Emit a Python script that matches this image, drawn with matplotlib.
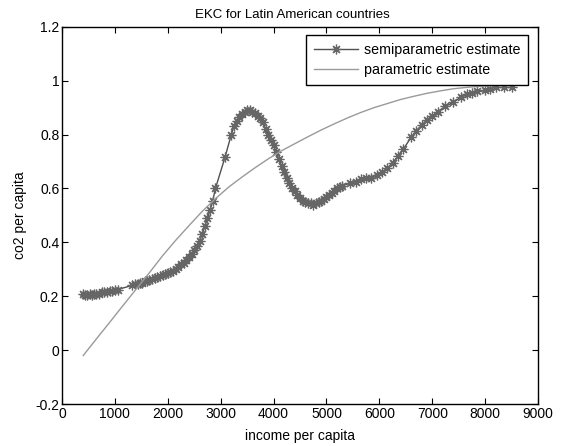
import matplotlib
matplotlib.use('Agg')
import matplotlib.pyplot as plt

# semiparametric estimate
semi_x = [400, 430, 480, 520, 560, 600, 650, 700, 760, 800, 850, 900, 950, 1000, 1050,
          1320, 1380, 1430, 1480, 1520, 1560, 1600, 1650, 1700, 1750, 1800, 1850, 1900, 1950, 2000,
          2050, 2100, 2150, 2200, 2250, 2300, 2350, 2400, 2450, 2500, 2550, 2600, 2650, 2700,
          2750, 2800, 2850, 2900,
          3080, 3200, 3250, 3300, 3350, 3400, 3450, 3500, 3550, 3600, 3650, 3700, 3750, 3800,
          3850, 3900, 3950, 4000, 4050, 4100, 4150, 4200, 4250, 4300, 4350, 4400, 4450, 4500,
          4550, 4600, 4650, 4700, 4750, 4800, 4850, 4900, 4950, 5000, 5050, 5100, 5150, 5200,
          5250, 5300, 5450, 5550, 5650, 5750, 5850, 5950, 6050, 6150, 6250, 6350, 6450, 6600,
          6700, 6800, 6900, 7000, 7100, 7250, 7400, 7550, 7650, 7750, 7850, 8000, 8100, 8200,
          8350, 8500]
semi_y = [0.21, 0.205, 0.205, 0.21, 0.205, 0.21, 0.21, 0.21, 0.215, 0.215, 0.215, 0.22, 0.22, 0.225, 0.225,
          0.24, 0.245, 0.245, 0.25, 0.25, 0.255, 0.258, 0.26, 0.265, 0.268, 0.272, 0.275, 0.278, 0.282, 0.285,
          0.29, 0.295, 0.30, 0.31, 0.318, 0.325, 0.333, 0.345, 0.355, 0.37, 0.385, 0.405, 0.43, 0.46,
          0.49, 0.52, 0.555, 0.60,
          0.715, 0.80, 0.83, 0.85, 0.865, 0.875, 0.885, 0.89, 0.89, 0.885, 0.88, 0.87, 0.86, 0.845,
          0.82, 0.80, 0.78, 0.76, 0.735, 0.71, 0.685, 0.66, 0.64, 0.62, 0.60, 0.59, 0.575, 0.565,
          0.555, 0.55, 0.545, 0.545, 0.54, 0.545, 0.55, 0.555, 0.56, 0.57, 0.575, 0.585, 0.59, 0.60,
          0.605, 0.61, 0.62, 0.625, 0.635, 0.64, 0.64, 0.65, 0.66, 0.675, 0.695, 0.72, 0.745, 0.79,
          0.815, 0.835, 0.855, 0.87, 0.885, 0.905, 0.92, 0.94, 0.95, 0.955, 0.96, 0.965, 0.97, 0.975,
          0.975, 0.975]

# parametric estimate
par_x = [400, 650, 900, 1150, 1400, 1650, 1900, 2150, 2400, 2650, 2900, 3150, 3400, 3650,
         3900, 4150, 4400, 4650, 4900, 5150, 5400, 5650, 5900, 6150, 6400, 6650, 6900, 7150,
         7400, 7650, 7900, 8150, 8500]
par_y = [-0.02, 0.042, 0.103, 0.165, 0.226, 0.287, 0.35, 0.408, 0.462, 0.515, 0.562, 0.605,
         0.642, 0.677, 0.71, 0.74, 0.766, 0.792, 0.817, 0.84, 0.862, 0.882, 0.9, 0.915, 0.93,
         0.942, 0.953, 0.962, 0.97, 0.975, 0.979, 0.982, 0.985]

xticks = [0, 1000, 2000, 3000, 4000, 5000, 6000, 7000, 8000, 9000]
yticks = [-0.2, 0, 0.2, 0.4, 0.6, 0.8, 1, 1.2]
ytick_labels = ['-0.2', '0', '0.2', '0.4', '0.6', '0.8', '1', '1.2']

plt.rcParams['font.family'] = ['Liberation Sans', 'DejaVu Sans']

fig = plt.figure(figsize=(5.64, 4.46), dpi=100)
ax = fig.add_axes([0.110, 0.094, 0.844, 0.846])

# MATLAB style asterisk marker
ax.plot(semi_x, semi_y, color='#505050', linewidth=1.0, marker=(8, 2, 0),
        markersize=7, markeredgewidth=0.9,
        markeredgecolor='#666666', label='semiparametric estimate')
ax.plot(par_x, par_y, color='#9a9a9a', linewidth=1.0, label='parametric estimate')

ax.set_xlim(0, 9000)
ax.set_ylim(-0.2, 1.2)
ax.set_xticks(xticks)
ax.set_xticklabels([str(t) for t in xticks])
ax.set_yticks(yticks)
ax.set_yticklabels(ytick_labels)
ax.tick_params(direction='in', top=True, right=True, length=4, labelsize=10, pad=2)
for s in ax.spines.values():
    s.set_linewidth(1.0)

ax.set_title('EKC for Latin American countries', fontsize=9.5, pad=6, x=0.484)
ax.set_xlabel('income per capita', fontsize=10, labelpad=6)
ax.set_ylabel('co2 per capita', fontsize=10, labelpad=6)

leg = ax.legend(loc='upper right', bbox_to_anchor=(0.979, 0.978), fontsize=10.3,
                frameon=True, fancybox=False, framealpha=1, edgecolor='black',
                borderaxespad=0, handlelength=3.1, handletextpad=0.4,
                labelspacing=0.45, borderpad=0.55)
leg.get_frame().set_linewidth(1.0)

fig.savefig('out.png', dpi=100)
